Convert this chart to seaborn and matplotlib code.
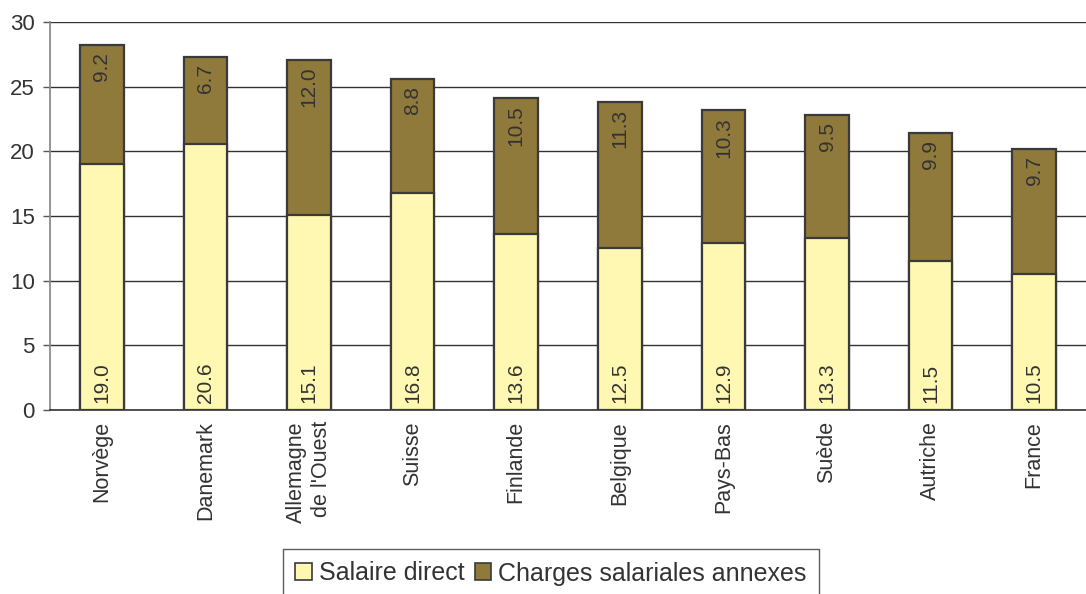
import matplotlib
matplotlib.use("Agg")
import matplotlib.pyplot as plt
from matplotlib.patches import Patch
import seaborn as sns
import pandas as pd
import numpy as np

pays = ["Norvège", "Danemark", "Allemagne\nde l'Ouest", "Suisse", "Finlande",
        "Belgique", "Pays-Bas", "Suède", "Autriche", "France"]
salaire_direct = [19.0, 20.6, 15.1, 16.8, 13.6, 12.5, 12.9, 13.3, 11.5, 10.5]
charges_annexes = [9.2, 6.7, 12.0, 8.8, 10.5, 11.3, 10.3, 9.5, 9.9, 9.7]
y_ticks = [0, 5, 10, 15, 20, 25, 30]

c_direct = "#FFF8B2"
c_charges = "#8F7A3B"
c_edge = "#3a3a3a"
c_text = "#333333"

df = pd.DataFrame({"pays": pays, "direct": salaire_direct, "charges": charges_annexes})
df["total"] = df["direct"] + df["charges"]

sns.set_theme(style="white")
plt.rcParams["font.family"] = ["Liberation Sans", "DejaVu Sans"]

fig = plt.figure(figsize=(10.86, 5.94), dpi=100)
ax = fig.add_axes([50 / 1086, 1 - 410 / 594, 1 - 50 / 1086, 388 / 594])

# stacked bars: total in brown, direct salary drawn over it
sns.barplot(data=df, x="pays", y="total", color=c_charges, width=0.42,
            edgecolor=c_edge, linewidth=1.6, saturation=1, ax=ax, zorder=3)
sns.barplot(data=df, x="pays", y="direct", color=c_direct, width=0.42,
            edgecolor=c_edge, linewidth=1.6, saturation=1, ax=ax, zorder=4)

for i, row in df.iterrows():
    ax.annotate(f"{row['direct']:.1f}", (i, 0), xytext=(0, 5), textcoords="offset points",
                rotation=90, ha="center", va="bottom", fontsize=15, color=c_text, zorder=5)
    ax.annotate(f"{row['charges']:.1f}", (i, row["total"]), xytext=(0, -5),
                textcoords="offset points", rotation=90, ha="center", va="top",
                fontsize=15, color=c_text, zorder=5)

ax.set_ylim(0, 30)
ax.set_xlim(-0.5, len(pays) - 0.5)
ax.set_yticks(y_ticks)
ax.set_yticklabels([str(t) for t in y_ticks], fontsize=16, color=c_text)
ax.yaxis.grid(True, color="#333333", linewidth=1.0, zorder=0)
ax.set_axisbelow(True)

ax.set_xticks(range(len(pays)))
ax.set_xticklabels(pays, rotation=90, fontsize=15.5, color=c_text,
                   va="top", ha="center", multialignment="right")
ax.tick_params(axis="x", which="major", length=0, pad=8)
ax.set_xticks(np.arange(-0.5, len(pays), 1.0), minor=True)
ax.tick_params(axis="x", which="minor", length=6, width=1, color="#777777", direction="out")
ax.tick_params(axis="y", length=5, width=1, color="#555555", direction="out", pad=6, left=True)
ax.set_xlabel("")
ax.set_ylabel("")

for s in ["top", "right"]:
    ax.spines[s].set_visible(False)
ax.spines["left"].set_color("#888888")
ax.spines["bottom"].set_color("#333333")
ax.spines["bottom"].set_linewidth(1.2)

handles = [Patch(facecolor=c_direct, edgecolor=c_edge, linewidth=1.2),
           Patch(facecolor=c_charges, edgecolor=c_edge, linewidth=1.2)]
leg = fig.legend(handles, ["Salaire direct", "Charges salariales annexes"],
                 loc="upper center", bbox_to_anchor=(551 / 1086, 1 - 549 / 594),
                 ncol=2, fontsize=18, frameon=True, fancybox=False,
                 handlelength=0.65, handleheight=0.65, handletextpad=0.3,
                 columnspacing=0.4, borderpad=0.5, borderaxespad=0)
leg.get_frame().set_edgecolor("#333333")
leg.get_frame().set_linewidth(1.0)
for t in leg.get_texts():
    t.set_color(c_text)

fig.savefig("out.png", dpi=100)
